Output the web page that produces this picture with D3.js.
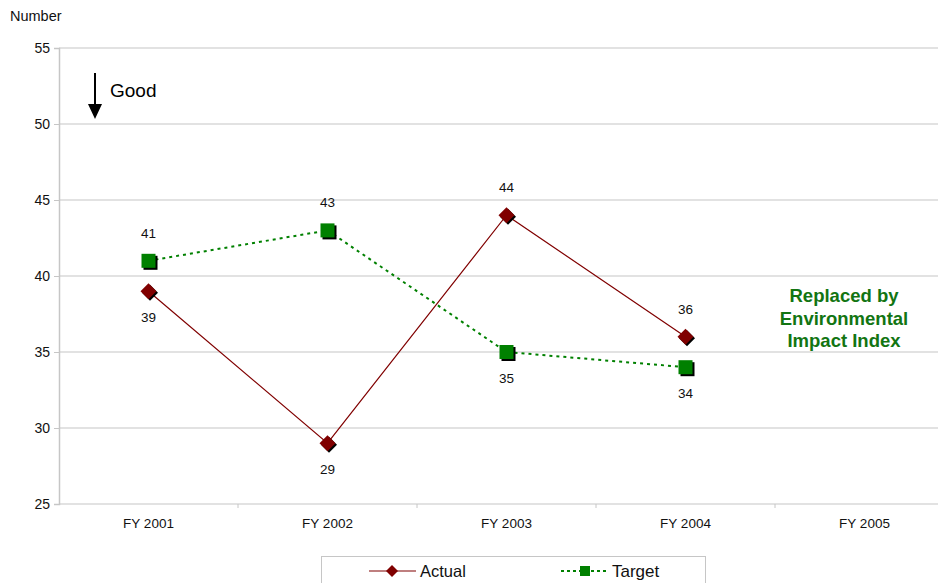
<!DOCTYPE html>
<html>
<head>
<meta charset="utf-8">
<script src="https://cdn.jsdelivr.net/npm/d3@7/dist/d3.min.js"></script>
<style>
  html, body { margin: 0; padding: 0; background: #fff; }
  svg { display: block; font-family: "Liberation Sans", Arial, sans-serif; }
</style>
</head>
<body>
<svg id="chart" width="938" height="583"></svg>
<script>
// Fiscal years on the category axis
const categories = ["FY 2001", "FY 2002", "FY 2003", "FY 2004", "FY 2005"];
// Measured count per year (FY 2005 not reported)
const actualValues = [39, 29, 44, 36, null];
// Planned count per year
const targetValues = [41, 43, 35, 34, null];
// Value axis ticks
const yTicks = [25, 30, 35, 40, 45, 50, 55];
// Where each data label sits relative to its marker
const actualLabelSide = ["below", "below", "above", "above", null];
const targetLabelSide = ["above", "above", "below", "below", null];

const svg = d3.select("#chart");
const plot = { left: 59, top: 48, bottom: 504, right: 954 };

const x = d3.scaleBand().domain(categories).range([plot.left, plot.right]);
const y = d3.scaleLinear().domain([25, 55]).range([plot.bottom, plot.top]);
const cx = c => x(c) + x.bandwidth() / 2;

const gridColor = "#c6c6c6";
const fontFamily = "Liberation Sans, Arial, sans-serif";

// Horizontal gridlines
svg.append("g")
  .selectAll("line")
  .data(yTicks)
  .join("line")
  .attr("x1", plot.left).attr("x2", 938)
  .attr("y1", d => y(d)).attr("y2", d => y(d))
  .attr("stroke", gridColor).attr("stroke-width", 1.2);

// Value axis
const yAxis = svg.append("g")
  .attr("transform", `translate(${plot.left},0)`)
  .call(d3.axisLeft(y).tickValues(yTicks).tickSize(5).tickPadding(4));
yAxis.select(".domain").attr("stroke", gridColor).attr("stroke-width", 1.5);
yAxis.selectAll(".tick line").attr("stroke", gridColor);
yAxis.selectAll(".tick text").attr("font-size", 14).attr("fill", "#111")
  .attr("font-family", fontFamily);

// Category axis
const xAxis = svg.append("g")
  .attr("transform", `translate(0,${plot.bottom})`)
  .call(d3.axisBottom(x).tickSize(0).tickPadding(14));
xAxis.select(".domain").remove();
xAxis.selectAll(".tick text").attr("font-size", 13.5).attr("fill", "#111")
  .attr("font-family", fontFamily);
// Small ticks between categories
svg.append("g")
  .selectAll("line")
  .data(categories.slice(1))
  .join("line")
  .attr("x1", d => x(d)).attr("x2", d => x(d))
  .attr("y1", plot.bottom).attr("y2", plot.bottom + 4)
  .attr("stroke", gridColor);

// Axis title
svg.append("text").attr("x", 10).attr("y", 21)
  .attr("font-size", 14.5).attr("fill", "#111").text("Number");

// "Good" direction marker
svg.append("line").attr("x1", 95).attr("x2", 95).attr("y1", 73).attr("y2", 106)
  .attr("stroke", "#000").attr("stroke-width", 2);
svg.append("path").attr("d", "M88,104 L102,104 L95,119 Z").attr("fill", "#000");
svg.append("text").attr("x", 110).attr("y", 97)
  .attr("font-size", 19).attr("fill", "#000").text("Good");

const actualColor = "#800000";
const targetColor = "#008000";

function points(values) {
  return categories.map((c, i) => ({ c, v: values[i], i })).filter(d => d.v != null);
}

const line = d3.line().x(d => cx(d.c)).y(d => y(d.v));

// Target series line (dotted)
svg.append("path").datum(points(targetValues))
  .attr("d", line).attr("fill", "none")
  .attr("stroke", targetColor).attr("stroke-width", 2)
  .attr("stroke-dasharray", "3,4");

// Actual series line
svg.append("path").datum(points(actualValues))
  .attr("d", line).attr("fill", "none")
  .attr("stroke", actualColor).attr("stroke-width", 1.2);

// Square markers with drop shadow
const sq = 7;
const tg = svg.append("g");
points(targetValues).forEach(d => {
  tg.append("rect").attr("x", cx(d.c) - sq + 2).attr("y", y(d.v) - sq + 2)
    .attr("width", sq * 2).attr("height", sq * 2).attr("fill", "#000");
  tg.append("rect").attr("x", cx(d.c) - sq).attr("y", y(d.v) - sq)
    .attr("width", sq * 2).attr("height", sq * 2).attr("fill", targetColor);
});

// Diamond markers with drop shadow
const dm = 8;
const diamond = (px, py) => `M${px},${py - dm} L${px + dm},${py} L${px},${py + dm} L${px - dm},${py} Z`;
const ag = svg.append("g");
points(actualValues).forEach(d => {
  ag.append("path").attr("d", diamond(cx(d.c) + 1.5, y(d.v) + 1.5)).attr("fill", "#000");
  ag.append("path").attr("d", diamond(cx(d.c), y(d.v))).attr("fill", actualColor);
});

// Data labels
function labels(values, sides) {
  svg.append("g")
    .selectAll("text")
    .data(points(values))
    .join("text")
    .attr("x", d => cx(d.c))
    .attr("y", d => y(d.v) + (sides[d.i] === "above" ? -23 : 31))
    .attr("text-anchor", "middle")
    .attr("font-size", 13.5).attr("fill", "#111")
    .text(d => d.v);
}
labels(targetValues, targetLabelSide);
labels(actualValues, actualLabelSide);

// Note for the final year
const note = ["Replaced by", "Environmental", "Impact Index"];
svg.append("g")
  .selectAll("text")
  .data(note)
  .join("text")
  .attr("x", 844).attr("y", (d, i) => 302 + i * 22.5)
  .attr("text-anchor", "middle")
  .attr("font-size", 18.5).attr("font-weight", "bold").attr("fill", "#127512")
  .text(d => d);

// Legend
const lg = svg.append("g");
lg.append("rect").attr("x", 321.5).attr("y", 556.5).attr("width", 384).attr("height", 40)
  .attr("fill", "#fff").attr("stroke", "#c6c6c6");
const ly = 571;
lg.append("line").attr("x1", 369).attr("x2", 416).attr("y1", ly).attr("y2", ly)
  .attr("stroke", actualColor).attr("stroke-width", 1.2);
lg.append("path").attr("d", `M392,${ly - 6} L398,${ly} L392,${ly + 6} L386,${ly} Z`).attr("fill", actualColor);
lg.append("text").attr("x", 420).attr("y", ly + 6).attr("font-size", 16.5).attr("fill", "#111").text("Actual");
lg.append("line").attr("x1", 561).attr("x2", 609).attr("y1", ly).attr("y2", ly)
  .attr("stroke", targetColor).attr("stroke-width", 2).attr("stroke-dasharray", "3,3");
lg.append("rect").attr("x", 580).attr("y", ly - 5).attr("width", 10).attr("height", 10).attr("fill", targetColor);
lg.append("text").attr("x", 612).attr("y", ly + 6).attr("font-size", 17).attr("fill", "#111").text("Target");
</script>
</body>
</html>
